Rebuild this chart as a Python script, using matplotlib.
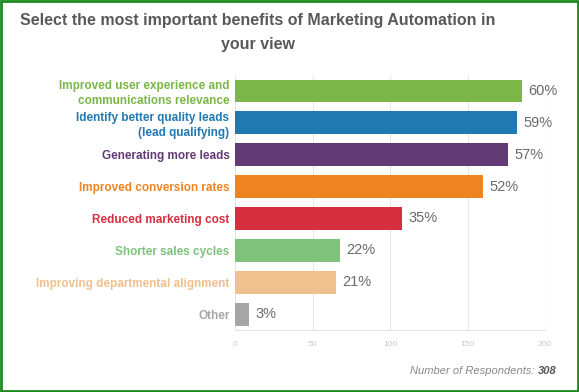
import matplotlib.pyplot as plt
from matplotlib.patches import Rectangle

categories = [
    "Improved user experience and\ncommunications relevance",
    "Identify better quality leads\n(lead qualifying)",
    "Generating more leads",
    "Improved conversion rates",
    "Reduced marketing cost",
    "Shorter sales cycles",
    "Improving departmental alignment",
    "Other",
]
counts = [185, 182, 176, 160, 108, 68, 65, 9]
pct_labels = ["60%", "59%", "57%", "52%", "35%", "22%", "21%", "3%"]
colors = ["#7ab648", "#2079b0", "#623b75", "#ee8321", "#d62f40",
          "#7ec27c", "#f0c08f", "#a6a6a6"]
xticks = [0, 50, 100, 150, 200]

plt.rcParams['font.family'] = ['Liberation Sans', 'DejaVu Sans']

fig = plt.figure(figsize=(5.79, 3.92), dpi=100)
ax = fig.add_axes([235 / 579, 1 - 330 / 392, 310 / 579, 254 / 392])

y = list(range(len(categories)))
ax.barh(y, counts, height=0.72, color=colors, zorder=2)
for yi, c, lab in zip(y, counts, pct_labels):
    ax.text(c + 4, yi, lab, va="center", ha="left", fontsize=10.5,
            color="#6a6a6a")

ax.set_yticks(y)
ax.set_yticklabels(categories, fontsize=8.5, fontweight="bold", linespacing=1.25)
for tl, col in zip(ax.get_yticklabels(), colors):
    tl.set_color(col)
ax.tick_params(axis="y", length=0, pad=4)

ax.set_xlim(0, 200)
ax.set_ylim(7.5, -0.47)
ax.set_xticks(xticks)
ax.tick_params(axis="x", length=0, labelsize=6, labelcolor="#c8c8c8", pad=8)
ax.grid(axis="x", color="#e6e6e6", lw=0.8, zorder=0)
for s in ["top", "right", "left"]:
    ax.spines[s].set_visible(False)
ax.spines["bottom"].set_color("#e6e6e6")

fig.text(0.445, 1 - 20 / 392, "Select the most important benefits of Marketing Automation in",
         ha="center", va="center", fontsize=11.5, fontweight="bold", color="#595959")
fig.text(0.445, 1 - 45 / 392, "your view",
         ha="center", va="center", fontsize=11.5, fontweight="bold", color="#595959")

fig.text(538 / 579, 1 - 371 / 392, "Number of Respondents: ", ha="right", va="center",
         fontsize=8, style="italic", color="#888888")
fig.text(538 / 579, 1 - 371 / 392, "308", ha="left", va="center",
         fontsize=8, style="italic", fontweight="bold", color="#555555")

fig.patches.append(Rectangle((0.002, 0.003), 0.996, 0.994, transform=fig.transFigure,
                             fill=False, edgecolor="#1a8a1a", lw=2))

fig.savefig("out.png", dpi=100)
